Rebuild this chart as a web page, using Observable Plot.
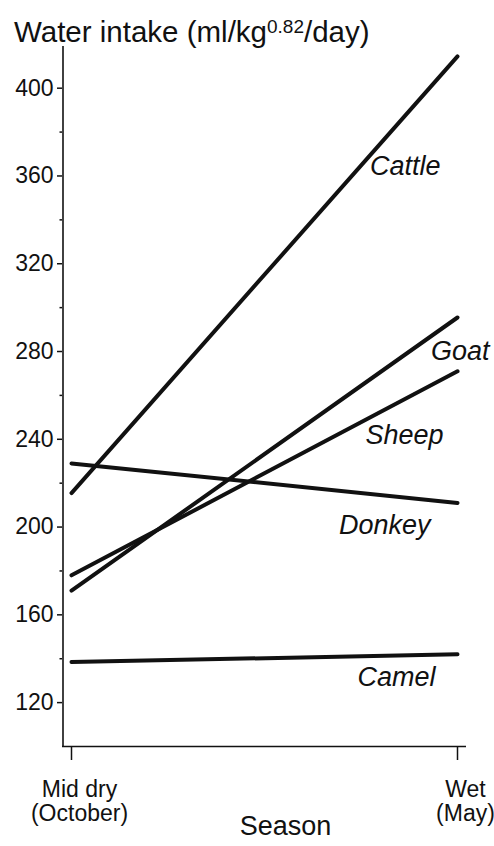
<!DOCTYPE html>
<html>
<head>
<meta charset="utf-8">
<script src="https://cdn.jsdelivr.net/npm/d3@7"></script>
<script src="https://cdn.jsdelivr.net/npm/@observablehq/plot@0.6"></script>
<style>
  body { margin: 0; background: white; font-family: "Liberation Sans", Arial, sans-serif; color: #111; }
  #title { position: relative; height: 40px; width: 494px; }
  #title span.main { position: absolute; left: 14px; top: 12px; font-size: 29.5px; line-height: 29.5px; white-space: nowrap; }
  #title span.sup { font-size: 19px; vertical-align: 9px; }
</style>
</head>
<body>
<div id="title"><span class="main">Water intake (ml/kg<span class="sup">0.82</span>/day)</span></div>
<div id="chart"></div>
<script>
const seasons = ["Mid dry\n(October)", "Wet\n(May)"];
const species = ["Cattle", "Goat", "Sheep", "Donkey", "Camel"];
const midDry = [215.5, 171, 178, 229, 138.5];
const wet = [414.5, 295.5, 271, 211, 142];
const yTicks = [120, 160, 200, 240, 280, 320, 360, 400];
const yMinorTicks = [140, 180, 220, 260, 300, 340, 380];

const rows = species.flatMap((s, i) => [
  {species: s, season: seasons[0], value: midDry[i]},
  {species: s, season: seasons[1], value: wet[i]}
]);

// label anchor placement (data units / pixel offsets)
const labelY = {Cattle: 364.3, Goat: 279.9, Sheep: 242, Donkey: 201, Camel: 131.7};
const labelDx = {Cattle: -17, Goat: 32, Sheep: -14, Donkey: -27, Camel: -22};

const chart = Plot.plot({
  width: 494,
  height: 806,
  marginLeft: 62,
  marginRight: 28,
  marginTop: 6,
  marginBottom: 100,
  style: {fontFamily: "'Liberation Sans', Arial, sans-serif", fontSize: "23px", color: "#111", background: "white", overflow: "visible"},
  x: {type: "point", domain: seasons, padding: 0.022},
  y: {domain: [100, 419]},
  marks: [
    Plot.ruleX([seasons[0]], {dx: -8.5, y1: 100, y2: 419, stroke: "#111", strokeWidth: 1.6}),
    Plot.ruleY([100], {stroke: "#111", strokeWidth: 1.6}),
    Plot.axisY({ticks: yTicks, tickSize: 5, tickPadding: 4, fontSize: 23, label: null, strokeWidth: 1.5}),
    Plot.axisY({ticks: yMinorTicks, tickSize: 2.5, tickFormat: () => "", label: null, strokeWidth: 1.5}),
    Plot.axisX({tickSize: 14, tickFormat: () => "", label: null, strokeWidth: 1.5}),
    Plot.axisX({tickSize: 0, tickPadding: 33, fontSize: 23, dx: 8, lineHeight: 1.06, label: null}),
    Plot.line(rows, {x: "season", y: "value", z: "species", stroke: "#111", strokeWidth: 4, strokeLinecap: "round"}),
    ...species.map(s => Plot.text([s], {
      x: () => seasons[1],
      y: () => labelY[s],
      dx: labelDx[s],
      text: d => d,
      textAnchor: "end",
      lineAnchor: "middle",
      fontStyle: "italic",
      fontSize: 27,
      fill: "#111"
    })),
    Plot.text(["Season"], {frameAnchor: "bottom", dx: 21, dy: 80, lineAnchor: "middle", fontSize: 27, fill: "#111"})
  ]
});
document.getElementById("chart").appendChild(chart);
</script>
</body>
</html>
